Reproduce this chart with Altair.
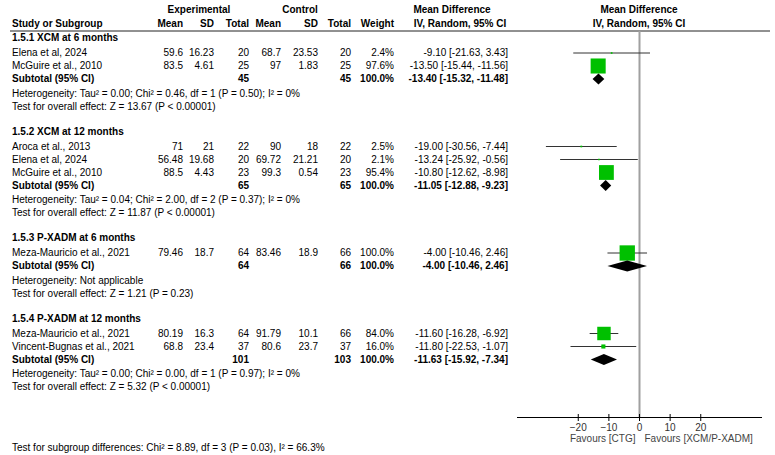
import altair as alt
import pandas as pd

# ---------------- data ----------------
group_titles = ["1.5.1 XCM at 6 months", "1.5.2 XCM at 12 months",
                "1.5.3 P-XADM at 6 months", "1.5.4 P-XADM at 12 months"]
study_group = [0, 0, 1, 1, 1, 2, 3, 3]
study_names = ["Elena et al, 2024", "McGuire et al., 2010", "Aroca et al., 2013",
               "Elena et al, 2024", "McGuire et al., 2010", "Meza-Mauricio et al., 2021",
               "Meza-Mauricio et al., 2021", "Vincent-Bugnas et al., 2021"]
exp_mean = [59.6, 83.5, 71, 56.48, 88.5, 79.46, 80.19, 68.8]
exp_sd = [16.23, 4.61, 21, 19.68, 4.43, 18.7, 16.3, 23.4]
exp_total = [20, 25, 22, 20, 23, 64, 64, 37]
ctl_mean = [68.7, 97, 90, 69.72, 99.3, 83.46, 91.79, 80.6]
ctl_sd = [23.53, 1.83, 18, 21.21, 0.54, 18.9, 10.1, 23.7]
ctl_total = [20, 25, 22, 20, 23, 66, 66, 37]
weight = [2.4, 97.6, 2.5, 2.1, 95.4, 100.0, 84.0, 16.0]
md = [-9.10, -13.50, -19.00, -13.24, -10.80, -4.00, -11.60, -11.80]
ci_low = [-21.63, -15.44, -30.56, -25.92, -12.62, -10.46, -16.28, -22.53]
ci_high = [3.43, -11.56, -7.44, -0.56, -8.98, 2.46, -6.92, -1.07]

sub_exp_total = [45, 65, 64, 101]
sub_ctl_total = [45, 65, 66, 103]
sub_weight = [100.0, 100.0, 100.0, 100.0]
sub_md = [-13.40, -11.05, -4.00, -11.63]
sub_low = [-15.32, -12.88, -10.46, -15.92]
sub_high = [-11.48, -9.23, 2.46, -7.34]

heterogeneity = [
    "Heterogeneity: Tau² = 0.00; Chi² = 0.46, df = 1 (P = 0.50); I² = 0%",
    "Heterogeneity: Tau² = 0.04; Chi² = 2.00, df = 2 (P = 0.37); I² = 0%",
    "Heterogeneity: Not applicable",
    "Heterogeneity: Tau² = 0.00; Chi² = 0.00, df = 1 (P = 0.97); I² = 0%",
]
overall_effect = [
    "Test for overall effect: Z = 13.67 (P < 0.00001)",
    "Test for overall effect: Z = 11.87 (P < 0.00001)",
    "Test for overall effect: Z = 1.21 (P = 0.23)",
    "Test for overall effect: Z = 5.32 (P < 0.00001)",
]
subgroup_test = "Test for subgroup differences: Chi² = 8.89, df = 3 (P = 0.03), I² = 66.3%"
tick_values = [-20, -10, 0, 10, 20]
x_domain = [-40, 40]
favours_left = "Favours [CTG]"
favours_right = "Favours [XCM/P-XADM]"

# ---------------- layout (style) ----------------
W, H = 775, 455
FONT = "Liberation Sans"
FS = 10
COL = dict(name=12, em=183, esd=214, en=249, cm=281, csd=318, cn=351, w=394, ci=508)
PLOT_RANGE = [517, 762]
HEADER1_Y, HEADER2_Y, HEADER_LINE_Y = 10, 24, 31
Y_FIRST_TITLE, TITLE_TO_STUDY, ROW = 38, 15, 13
SUB_TO_HET, HET_TO_TEST, TEST_TO_TITLE = 14.5, 13, 25
AXIS_Y, TICK_HALF, TICKLABEL_Y, FAVOURS_Y, BOTTOM_Y = 417.5, 3.5, 427.5, 438.5, 448
DIAMOND_HALF = 5.5
GREEN = "#00c000"


def fnum(v):
    return f"{v:g}"


def fci(m, lo, hi):
    return f"{m:.2f} [{lo:.2f}, {hi:.2f}]"


texts = []


def add(t, x, y, align="right", bold=False):
    texts.append(dict(t=t, xp=x, y=y, align=align, bold=bold))


# headers
add("Experimental", 199, HEADER1_Y, "center", True)
add("Control", 300, HEADER1_Y, "center", True)
add("Mean Difference", 452, HEADER1_Y, "center", True)
add("Mean Difference", 639, HEADER1_Y, "center", True)
add("Study or Subgroup", COL["name"], HEADER2_Y, "left", True)
for key, lab in [("em", "Mean"), ("esd", "SD"), ("en", "Total"), ("cm", "Mean"),
                 ("csd", "SD"), ("cn", "Total"), ("w", "Weight")]:
    add(lab, COL[key], HEADER2_Y, "right", True)
add("IV, Random, 95% CI", 460, HEADER2_Y, "center", True)
add("IV, Random, 95% CI", 639, HEADER2_Y, "center", True)

study_rows = []
sub_rows = []
y = Y_FIRST_TITLE
for g, title in enumerate(group_titles):
    add(title, COL["name"], y, "left", True)
    y += TITLE_TO_STUDY
    for i, gg in enumerate(study_group):
        if gg != g:
            continue
        add(study_names[i], COL["name"], y, "left")
        add(fnum(exp_mean[i]), COL["em"], y)
        add(fnum(exp_sd[i]), COL["esd"], y)
        add(str(exp_total[i]), COL["en"], y)
        add(fnum(ctl_mean[i]), COL["cm"], y)
        add(fnum(ctl_sd[i]), COL["csd"], y)
        add(str(ctl_total[i]), COL["cn"], y)
        add(f"{weight[i]:.1f}%", COL["w"], y)
        add(fci(md[i], ci_low[i], ci_high[i]), COL["ci"], y)
        study_rows.append(dict(y=y, md=md[i], lo=ci_low[i], hi=ci_high[i], w=weight[i]))
        y += ROW
    add("Subtotal (95% CI)", COL["name"], y, "left", True)
    add(str(sub_exp_total[g]), COL["en"], y, "right", True)
    add(str(sub_ctl_total[g]), COL["cn"], y, "right", True)
    add(f"{sub_weight[g]:.1f}%", COL["w"], y, "right", True)
    add(fci(sub_md[g], sub_low[g], sub_high[g]), COL["ci"], y, "right", True)
    sub_rows.append(dict(g=g, y=y, md=sub_md[g], lo=sub_low[g], hi=sub_high[g]))
    y += SUB_TO_HET
    add(heterogeneity[g], COL["name"], y, "left")
    y += HET_TO_TEST
    add(overall_effect[g], COL["name"], y, "left")
    y += TEST_TO_TITLE

add(subgroup_test, COL["name"], BOTTOM_Y, "left")

text_df = pd.DataFrame(texts)
study_df = pd.DataFrame(study_rows)

diamond_pts = []
for r in sub_rows:
    diamond_pts.append(dict(g=r["g"], x=r["lo"], yt=r["y"], yb=r["y"]))
    diamond_pts.append(dict(g=r["g"], x=r["md"], yt=r["y"] - DIAMOND_HALF, yb=r["y"] + DIAMOND_HALF))
    diamond_pts.append(dict(g=r["g"], x=r["hi"], yt=r["y"], yb=r["y"]))
diamond_df = pd.DataFrame(diamond_pts)

# ---------------- scales ----------------
yscale = alt.Scale(domain=[0, H], range=[0, H])
pxscale = alt.Scale(domain=[0, W], range=[0, W])
xscale = alt.Scale(domain=x_domain, range=PLOT_RANGE)

layers = []

# text layers
for align in ["left", "right", "center"]:
    for bold in [False, True]:
        sub = text_df[(text_df["align"] == align) & (text_df["bold"] == bold)]
        if len(sub) == 0:
            continue
        layers.append(
            alt.Chart(sub[["t", "xp", "y"]]).mark_text(
                align=align, baseline="middle", font=FONT, fontSize=FS,
                fontWeight="bold" if bold else "normal", color="#000000"
            ).encode(
                x=alt.X("xp:Q", scale=pxscale, axis=None),
                y=alt.Y("y:Q", scale=yscale, axis=None),
                text="t:N",
            )
        )

# header line
layers.append(
    alt.Chart(pd.DataFrame({"y": [HEADER_LINE_Y]})).mark_rule(color="#222222", strokeWidth=1).encode(
        x=alt.value(COL["name"] - 2), x2=alt.value(770),
        y=alt.Y("y:Q", scale=yscale, axis=None),
    )
)

# zero line
layers.append(
    alt.Chart(pd.DataFrame({"x": [0], "y": [HEADER_LINE_Y], "y2": [AXIS_Y]})).mark_rule(
        color="#a0a0a0", strokeWidth=2).encode(
        x=alt.X("x:Q", scale=xscale, axis=None),
        y=alt.Y("y:Q", scale=yscale, axis=None), y2="y2:Q",
    )
)

# CI lines
layers.append(
    alt.Chart(study_df).mark_rule(color="#333333", strokeWidth=1).encode(
        x=alt.X("lo:Q", scale=xscale, axis=None), x2="hi:Q",
        y=alt.Y("y:Q", scale=yscale, axis=None),
    )
)

# squares
layers.append(
    alt.Chart(study_df).mark_square(color=GREEN, opacity=1, filled=True).encode(
        x=alt.X("md:Q", scale=xscale, axis=None),
        y=alt.Y("y:Q", scale=yscale, axis=None),
        size=alt.Size("w:Q", scale=alt.Scale(type="pow", exponent=1.5, domain=[0, 100], range=[2, 235]),
                      legend=None),
    )
)

# diamonds
layers.append(
    alt.Chart(diamond_df).mark_area(color="#000000", orient="vertical", opacity=1).encode(
        x=alt.X("x:Q", scale=xscale, axis=None),
        y=alt.Y("yt:Q", scale=yscale, axis=None), y2="yb:Q",
        detail="g:N",
    )
)

# axis line + ticks + labels
layers.append(
    alt.Chart(pd.DataFrame({"a": [x_domain[0]], "b": [x_domain[1]], "y": [AXIS_Y]})).mark_rule(
        color="#000000", strokeWidth=1).encode(
        x=alt.X("a:Q", scale=xscale, axis=None), x2="b:Q",
        y=alt.Y("y:Q", scale=yscale, axis=None),
    )
)
tick_df = pd.DataFrame({"v": tick_values, "y": [AXIS_Y - TICK_HALF] * len(tick_values),
                        "y2": [AXIS_Y + TICK_HALF] * len(tick_values),
                        "ly": [TICKLABEL_Y] * len(tick_values)})
layers.append(
    alt.Chart(tick_df).mark_rule(color="#000000", strokeWidth=1).encode(
        x=alt.X("v:Q", scale=xscale, axis=None),
        y=alt.Y("y:Q", scale=yscale, axis=None), y2="y2:Q",
    )
)
layers.append(
    alt.Chart(tick_df).mark_text(font=FONT, fontSize=FS, color="#333333", baseline="middle").encode(
        x=alt.X("v:Q", scale=xscale, axis=None),
        y=alt.Y("ly:Q", scale=yscale, axis=None),
        text=alt.Text("v:Q", format="d"),
    )
)
fav_df = pd.DataFrame({"x": [0], "y": [FAVOURS_Y], "l": [favours_left], "r": [favours_right]})
layers.append(
    alt.Chart(fav_df).mark_text(font=FONT, fontSize=FS, color="#444444", align="right",
                                baseline="middle", dx=-4).encode(
        x=alt.X("x:Q", scale=xscale, axis=None),
        y=alt.Y("y:Q", scale=yscale, axis=None), text="l:N",
    )
)
layers.append(
    alt.Chart(fav_df).mark_text(font=FONT, fontSize=FS, color="#444444", align="left",
                                baseline="middle", dx=5).encode(
        x=alt.X("x:Q", scale=xscale, axis=None),
        y=alt.Y("y:Q", scale=yscale, axis=None), text="r:N",
    )
)

chart = alt.layer(*layers).resolve_scale(x="independent").properties(
    width=W, height=H, padding=0,
    autosize=alt.AutoSizeParams(type="fit", contains="padding"),
    background="white",
).configure_view(stroke=None)

chart.save("out.html", embed_options={"renderer": "svg", "actions": False})
